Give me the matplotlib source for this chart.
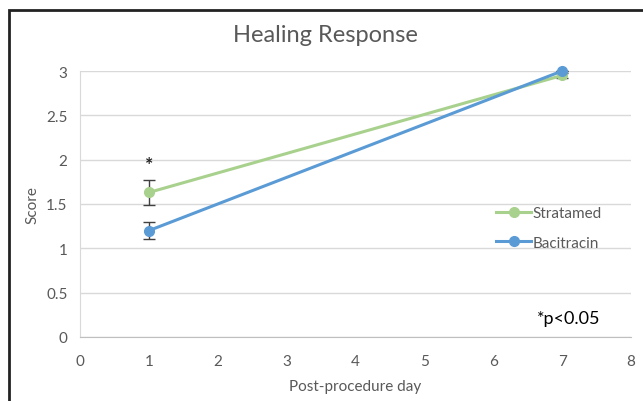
import matplotlib.pyplot as plt
from matplotlib.patches import Rectangle

days = [1, 7]
stratamed = [1.63, 2.95]
stratamed_err = [0.14, 0.03]
bacitracin = [1.2, 3.0]
bacitracin_err = [0.1, 0.0]

green = '#A9D18E'
blue = '#5B9BD5'
grey = '#595959'

plt.rcParams['font.family'] = ['Lato', 'DejaVu Sans']

fig = plt.figure(figsize=(6.43, 4.02), dpi=100)
ax = fig.add_axes([80 / 643, 1 - 338 / 402, 551 / 643, 266 / 402])

# error bars first, lines on top
ax.errorbar(days, stratamed, yerr=stratamed_err, fmt='none', ecolor='#404040',
            elinewidth=1, capsize=4, capthick=1, zorder=2, clip_on=False)
ax.errorbar(days, bacitracin, yerr=bacitracin_err, fmt='none', ecolor='#404040',
            elinewidth=1, capsize=4, capthick=1, zorder=2, clip_on=False)
ax.plot(days, stratamed, color=green, lw=2.2, marker='o', ms=7, label='Stratamed',
        zorder=3, clip_on=False)
ax.plot(days, bacitracin, color=blue, lw=2.2, marker='o', ms=7, label='Bacitracin',
        zorder=4, clip_on=False)

ax.set_xlim(0, 8)
ax.set_ylim(0, 3)
ax.set_xticks(range(0, 9))
ax.set_yticks([0, 0.5, 1, 1.5, 2, 2.5, 3])
ax.set_yticklabels(['0', '0.5', '1', '1.5', '2', '2.5', '3'])
ax.grid(axis='y', color='#D9D9D9', lw=1)
ax.set_axisbelow(True)
for s in ['top', 'right']:
    ax.spines[s].set_visible(False)
ax.spines['left'].set_color('#D9D9D9')
ax.spines['bottom'].set_color('#BFBFBF')
ax.tick_params(length=0, colors=grey, labelsize=11)
ax.tick_params(axis='x', pad=12)
ax.tick_params(axis='y', pad=9)

ax.set_xlabel('Post-procedure day', color=grey, fontsize=11, labelpad=8)
ax.set_ylabel('Score', color=grey, fontsize=11, labelpad=5)
fig.text(325 / 643, 1 - 35 / 402, 'Healing Response', ha='center', va='center',
         fontsize=17, color=grey)

ax.text(1, 1.94, '*', ha='center', va='center', fontsize=14, fontweight='bold',
        color='#222222')
ax.text(0.945, 0.07, '*p<0.05', transform=ax.transAxes, ha='right', va='center',
        fontsize=13, color='black')

ax.legend(loc='center left', bbox_to_anchor=(0.73, 0.41), frameon=False,
          fontsize=11, labelcolor=grey, handlelength=2.3, handletextpad=0.1,
          labelspacing=1.0)

# frame of the cropped figure
fig.patches.append(Rectangle((8.5 / 643, -0.1), 1.2, 1 - 10.5 / 402 + 0.1,
                             transform=fig.transFigure, fill=False,
                             edgecolor='#222222', lw=2))

fig.savefig('out.png', dpi=100)
